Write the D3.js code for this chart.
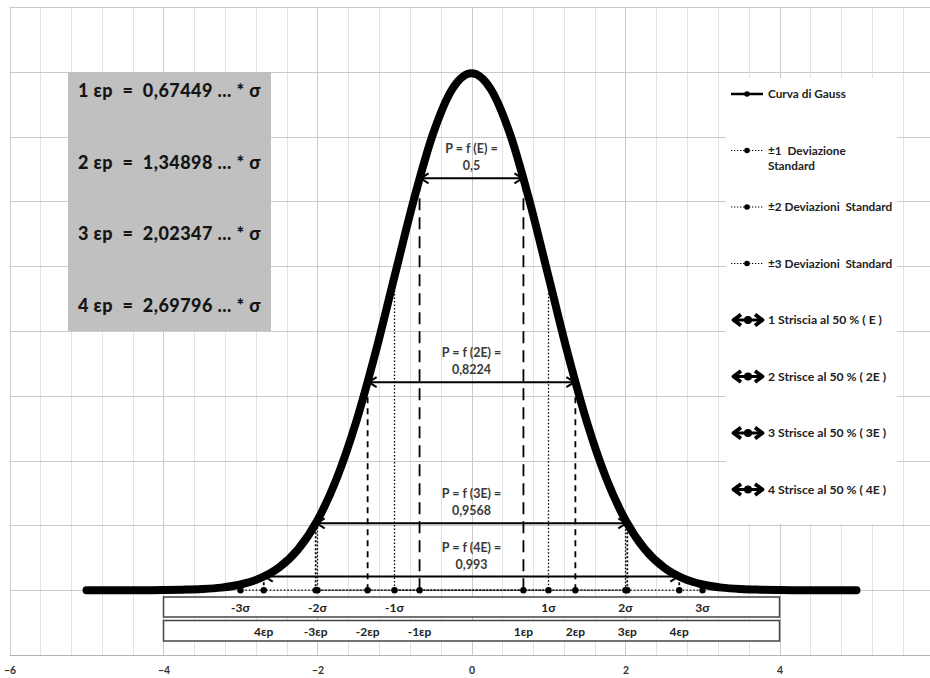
<!DOCTYPE html>
<html>
<head>
<meta charset="utf-8">
<script src="https://cdn.jsdelivr.net/npm/d3@7"></script>
<style>
  body { margin: 0; background: #fff; }
  svg { display: block; font-family: Lato, "Open Sans", sans-serif; }
  text { white-space: pre; }
</style>
</head>
<body>
<svg id="chart" width="930" height="678"></svg>
<script>
// Gauss curve
const curveX = [-5, -4.75, -4.5, -4.25, -4, -3.75, -3.5, -3.25, -3, -2.75, -2.5, -2.25, -2, -1.75, -1.5, -1.25, -1, -0.75, -0.5, -0.25,
  0, 0.25, 0.5, 0.75, 1, 1.25, 1.5, 1.75, 2, 2.25, 2.5, 2.75, 3, 3.25, 3.5, 3.75, 4, 4.25, 4.5, 4.75, 5];
const curveY = [0, 0, 0, 0, 0.0001, 0.0004, 0.0009, 0.0020, 0.0044, 0.0091, 0.0175, 0.0317, 0.0540, 0.0863, 0.1295, 0.1826, 0.2420, 0.3011, 0.3521, 0.3867,
  0.3989, 0.3867, 0.3521, 0.3011, 0.2420, 0.1826, 0.1295, 0.0863, 0.0540, 0.0317, 0.0175, 0.0091, 0.0044, 0.0020, 0.0009, 0.0004, 0.0001, 0, 0, 0, 0];

// standard deviations
const sigmaX = [1, 2, 3];
const sigmaY = [0.2420, 0.0540, 0.0044];
const sigmaLabels = ["-3σ", "-2σ", "-1σ", "1σ", "2σ", "3σ"];
const sigmaLabelX = [-3, -2, -1, 1, 2, 3];

// probable errors (strisce al 50%)
const epX = [0.67449, 1.34898, 2.02347, 2.69796];
const epY = [0.3178, 0.1605, 0.0516, 0.0105];
const epLabels = ["4εp", "-3εp", "-2εp", "-1εp", "1εp", "2εp", "3εp", "4εp"];
const epLabelX = [-2.69796, -2.02347, -1.34898, -0.67449, 0.67449, 1.34898, 2.02347, 2.69796];
const stripNames = ["E", "2E", "3E", "4E"];
const stripProb = ["0,5", "0,8224", "0,9568", "0,993"];

const boxLines = ["1 εp  =  0,67449 ... * σ", "2 εp  =  1,34898 ... * σ", "3 εp  =  2,02347 ... * σ", "4 εp  =  2,69796 ... * σ"];
const legendLabels = [["Curva di Gauss"], ["±1  Deviazione", "Standard"], ["±2 Deviazioni  Standard"], ["±3 Deviazioni  Standard"],
  ["1 Striscia al 50 % ( E )"], ["2 Strisce al 50 % ( 2E )"], ["3 Strisce al 50 % ( 3E )"], ["4 Strisce al 50 % ( 4E )"]];
const legendKind = ["line", "dot", "dot", "dot", "arrow", "arrow", "arrow", "arrow"];
const xTicks = [-6, -4, -2, 0, 2, 4, 6];

const svg = d3.select("#chart");
const x = d3.scaleLinear().domain([-6, 6]).range([9.5, 933.5]);
const y = d3.scaleLinear().domain([-0.05, 0.45]).range([655, 7]);

// grid
const grid = svg.append("g");
grid.selectAll(".vmin").data(d3.range(-6, 6.001, 0.4)).join("line")
  .attr("x1", d => Math.round(x(d)) + 0.5).attr("x2", d => Math.round(x(d)) + 0.5)
  .attr("y1", y(0.45)).attr("y2", y(-0.05))
  .attr("stroke", "#e2e2e2");
grid.selectAll(".vmaj").data(xTicks).join("line")
  .attr("x1", d => Math.round(x(d)) + 0.5).attr("x2", d => Math.round(x(d)) + 0.5)
  .attr("y1", y(0.45)).attr("y2", y(-0.05))
  .attr("stroke", "#cacaca");
grid.selectAll(".h").data(d3.range(-0.05, 0.451, 0.05)).join("line")
  .attr("x1", x(-6)).attr("x2", x(6))
  .attr("y1", d => Math.round(y(d)) + 0.5).attr("y2", d => Math.round(y(d)) + 0.5)
  .attr("stroke", "#cacaca");

// x axis
const ax = svg.append("g").attr("transform", `translate(0,${y(-0.05)})`)
  .call(d3.axisBottom(x).tickValues(xTicks).tickSize(0).tickPadding(12).tickFormat(d3.format("d")));
ax.select(".domain").attr("stroke", "#b4b4b4");
ax.selectAll("text").attr("font-size", 10.5).attr("font-weight", "bold").attr("fill", "#333")
  .attr("font-family", "Lato, sans-serif");

// grey box
svg.append("rect").attr("x", 68).attr("y", 72).attr("width", 203).attr("height", 259).attr("fill", "#c0c0c0");
svg.selectAll(".boxt").data(boxLines).join("text")
  .attr("x", 78).attr("y", (d, i) => 97 + i * 71.7)
  .attr("font-size", 18).attr("font-weight", 900).attr("fill", "#151515")
  .attr("letter-spacing", 0.45)
  .text(d => d);

// legend
svg.append("rect").attr("x", 726).attr("y", 78).attr("width", 171).attr("height", 446).attr("fill", "#fff");
const lg = svg.selectAll(".lg").data(legendLabels).join("g")
  .attr("transform", (d, i) => `translate(0,${94 + i * 56.5})`);
lg.each(function (d, i) {
  const g = d3.select(this);
  const k = legendKind[i];
  if (k === "arrow") {
    g.append("line").attr("x1", 735).attr("x2", 761).attr("y1", 0).attr("y2", 0).attr("stroke", "#000").attr("stroke-width", 3);
    g.append("path").attr("d", "M741,-5.5L733.5,0L741,5.5M755,-5.5L762.5,0L755,5.5")
      .attr("fill", "none").attr("stroke", "#000").attr("stroke-width", 3.8).attr("stroke-linejoin", "round");
    g.append("circle").attr("cx", 748).attr("cy", 0).attr("r", 4).attr("fill", "#000");
  } else {
    g.append("line").attr("x1", 731).attr("x2", 763).attr("y1", 0).attr("y2", 0)
      .attr("stroke", "#000").attr("stroke-width", k === "line" ? 2.5 : 1.2)
      .attr("stroke-dasharray", k === "line" ? null : "1.3,1.7");
    g.append("circle").attr("cx", 747).attr("cy", 0).attr("r", 2.8).attr("fill", "#000");
  }
  g.selectAll("text").data(d).join("text")
    .attr("x", 768).attr("y", (t, j) => 4 + j * 15.5)
    .attr("font-size", k === "arrow" ? 12.2 : 11.8).attr("font-weight", "bold").attr("fill", "#222")
    .text(t => t);
});

// sigma / ep label boxes
svg.append("rect").attr("x", x(-4)).attr("y", 597).attr("width", x(4) - x(-4)).attr("height", 20)
  .attr("fill", "#fff").attr("stroke", "#444").attr("stroke-width", 1.5);
svg.append("rect").attr("x", x(-4)).attr("y", 620.5).attr("width", x(4) - x(-4)).attr("height", 20.5)
  .attr("fill", "#fff").attr("stroke", "#444").attr("stroke-width", 1.5);
svg.selectAll(".sl").data(sigmaLabels).join("text")
  .attr("x", (d, i) => x(sigmaLabelX[i])).attr("y", 612)
  .attr("text-anchor", "middle").attr("font-size", 12).attr("font-weight", "bold").attr("fill", "#222")
  .text(d => d);
svg.selectAll(".el").data(epLabels).join("text")
  .attr("x", (d, i) => x(epLabelX[i])).attr("y", 636)
  .attr("text-anchor", "middle").attr("font-size", 12).attr("font-weight", "bold").attr("fill", "#222")
  .text(d => d);

// sigma series: dotted verticals + baseline
const line = d3.line().x(d => x(d[0])).y(d => y(d[1]));
sigmaX.forEach((s, i) => {
  svg.append("path")
    .attr("d", line([[-s, sigmaY[i]], [-s, 0], [s, 0], [s, sigmaY[i]]]))
    .attr("fill", "none").attr("stroke", "#000").attr("stroke-width", 1.3).attr("stroke-dasharray", "1.5,2");
});

// ep verticals
const epDash = ["12,7", "6,5", "2,2", "3,2"];
epX.forEach((e, i) => {
  [-e, e].forEach(v => {
    svg.append("path")
      .attr("d", line([[v, 0], [v, epY[i]]]))
      .attr("fill", "none").attr("stroke", "#000").attr("stroke-width", 1.8).attr("stroke-dasharray", epDash[i]);
  });
});

// markers on the baseline
svg.selectAll(".mk").data(sigmaX.flatMap(s => [-s, s]).concat(epX.flatMap(e => [-e, e]))).join("circle")
  .attr("cx", d => x(d)).attr("cy", y(0)).attr("r", 3.2).attr("fill", "#000");

// strip arrows
epX.forEach((e, i) => {
  const yy = y(epY[i]);
  const x0 = x(-e), x1 = x(e);
  svg.append("line").attr("x1", x0).attr("x2", x1).attr("y1", yy).attr("y2", yy)
    .attr("stroke", "#000").attr("stroke-width", 2);
  svg.append("path")
    .attr("d", `M${x0 + 9},${yy - 5}L${x0 + 1},${yy}L${x0 + 9},${yy + 5}M${x1 - 9},${yy - 5}L${x1 - 1},${yy}L${x1 - 9},${yy + 5}`)
    .attr("fill", "none").attr("stroke", "#000").attr("stroke-width", 2);
  svg.append("text").attr("x", x(0)).attr("y", yy - 25)
    .attr("text-anchor", "middle").attr("font-size", 12.5).attr("font-weight", "bold").attr("fill", "#3a3a3a")
    .text(`P = f (${stripNames[i]}) =`);
  svg.append("text").attr("x", x(0)).attr("y", yy - 8)
    .attr("text-anchor", "middle").attr("font-size", 12.5).attr("font-weight", "bold").attr("fill", "#3a3a3a")
    .text(stripProb[i]);
});

// Gauss curve on top
svg.append("path")
  .datum(curveX.map((v, i) => [v, curveY[i]]))
  .attr("d", d3.line().x(d => x(d[0])).y(d => y(d[1])).curve(d3.curveMonotoneX))
  .attr("fill", "none").attr("stroke", "#000").attr("stroke-width", 8)
  .attr("stroke-linecap", "round").attr("stroke-linejoin", "round");
</script>
</body>
</html>
